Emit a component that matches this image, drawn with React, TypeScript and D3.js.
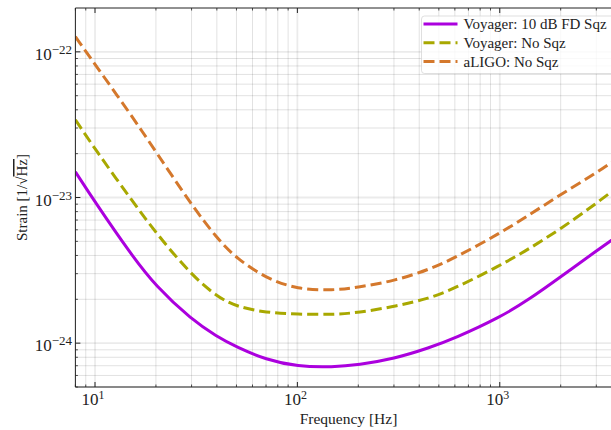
import React from 'react';
import * as d3 from 'd3';

const freqs = [8, 10, 15, 20, 30, 40, 50, 70, 100, 150, 200, 300, 450, 600, 1000, 1400, 2000, 3000, 4000];

// strain ASD, 1/sqrt(Hz)
const voyagerFdSqz = [1.5e-23, 9.3e-24, 4.1e-24, 2.45e-24, 1.45e-24, 1.11e-24, 9.4e-25, 7.7e-25, 6.9e-25, 6.85e-25, 7.1e-25, 7.8e-25, 9.3e-25, 1.08e-24, 1.5e-24, 2.0e-24, 2.85e-24, 4.3e-24, 5.7e-24];
const voyagerNoSqz = [3.42e-23, 2.15e-23, 9.8e-24, 5.7e-24, 2.93e-24, 2.09e-24, 1.78e-24, 1.62e-24, 1.58e-24, 1.57e-24, 1.62e-24, 1.78e-24, 2.03e-24, 2.38e-24, 3.4e-24, 4.45e-24, 6.09e-24, 9.1e-24, 1.24e-23];
const aligoNoSqz = [1.27e-22, 8.2e-23, 3.73e-23, 2.06e-23, 8.9e-24, 5.25e-24, 3.82e-24, 2.79e-24, 2.34e-24, 2.3e-24, 2.42e-24, 2.67e-24, 3.21e-24, 3.85e-24, 5.67e-24, 7.59e-24, 1.05e-23, 1.47e-23, 1.95e-23];

const seriesNames = ['Voyager: 10 dB FD Sqz', 'Voyager: No Sqz', 'aLIGO: No Sqz'];
const seriesValues = [voyagerFdSqz, voyagerNoSqz, aligoNoSqz];
const seriesColors = ['#ab00de', '#a8a800', '#d4782c'];
const seriesDash = [null, '11,5', '11,5'];

const xMajor = [10, 100, 1000];
const xMajorExp = ['1', '2', '3'];
const yMajor = [1e-22, 1e-23, 1e-24];
const yMajorExp = ['\u221222', '\u221223', '\u221224'];

const W = 611;
const H = 430;
const left = 75.4;
const right = 621.6;
const top = 8;
const bottom = 387;
const serif = "'Liberation Serif', 'Times New Roman', 'DejaVu Serif', serif";

export default function App() {
  const x = d3.scaleLog().domain([8, 4000]).range([left, right]);
  const y = d3.scaleLog().domain([5e-25, 2e-22]).range([bottom, top]);

  const xMinor: number[] = [];
  for (const dec of [1, 10, 100, 1000]) {
    for (let k = 2; k <= 9; k++) {
      const v = k * dec;
      if (v >= 8 && v <= 4000) xMinor.push(v);
    }
  }
  const yMinor: number[] = [];
  for (const dec of [1e-25, 1e-24, 1e-23]) {
    for (let k = 2; k <= 9; k++) {
      const v = k * dec;
      if (v >= 5e-25 && v <= 2e-22) yMinor.push(v);
    }
  }

  // b-spline smooths out small reading errors in the points
  const line = d3
    .line<number>()
    .x((_, i) => x(freqs[i]))
    .y((d) => y(d))
    .curve(d3.curveBasis);

  const txt = { fontFamily: serif, fill: '#222' };

  return (
    <div style={{ position: 'absolute', left: 0, top: 0 }}>
      <svg width={W} height={H} style={{ display: 'block', background: '#fff' }}>
        <defs>
          <clipPath id="plot">
            <rect x={left} y={top} width={right - left} height={bottom - top} />
          </clipPath>
        </defs>

        {/* grid */}
        <g>
          {xMinor.map((v) => (
            <line key={'xg' + v} x1={x(v)} x2={x(v)} y1={top} y2={bottom} stroke="#000" strokeOpacity={0.15} strokeWidth={0.8} />
          ))}
          {yMinor.map((v) => (
            <line key={'yg' + v} x1={left} x2={right} y1={y(v)} y2={y(v)} stroke="#000" strokeOpacity={0.15} strokeWidth={0.8} />
          ))}
          {xMajor.map((v) => (
            <line key={'xG' + v} x1={x(v)} x2={x(v)} y1={top} y2={bottom} stroke="#000" strokeOpacity={0.08} strokeWidth={1.8} />
          ))}
          {yMajor.map((v) => (
            <line key={'yG' + v} x1={left} x2={right} y1={y(v)} y2={y(v)} stroke="#000" strokeOpacity={0.08} strokeWidth={1.8} />
          ))}
        </g>

        {/* curves */}
        <g clipPath="url(#plot)">
          {seriesValues.map((vals, i) => (
            <path
              key={seriesNames[i]}
              d={line(vals) || ''}
              fill="none"
              stroke={seriesColors[i]}
              strokeWidth={3}
              strokeDasharray={seriesDash[i] || undefined}
            />
          ))}
        </g>

        {/* spines and ticks */}
        <g stroke="#222" strokeWidth={1}>
          <line x1={left} x2={right} y1={bottom} y2={bottom} />
          <line x1={left} x2={right} y1={top} y2={top} />
          <line x1={left} x2={left} y1={top} y2={bottom} />
          {xMajor.map((v) => (
            <g key={'xt' + v}>
              <line x1={x(v)} x2={x(v)} y1={bottom} y2={bottom - 5} />
              <line x1={x(v)} x2={x(v)} y1={top} y2={top + 5} />
            </g>
          ))}
          {xMinor.map((v) => (
            <g key={'xm' + v}>
              <line x1={x(v)} x2={x(v)} y1={bottom} y2={bottom - 2.5} strokeWidth={0.8} />
              <line x1={x(v)} x2={x(v)} y1={top} y2={top + 2.5} strokeWidth={0.8} />
            </g>
          ))}
          {yMajor.map((v) => (
            <line key={'yt' + v} x1={left} x2={left + 5} y1={y(v)} y2={y(v)} />
          ))}
          {yMinor.map((v) => (
            <line key={'ym' + v} x1={left} x2={left + 2.5} y1={y(v)} y2={y(v)} strokeWidth={0.8} />
          ))}
        </g>

        {/* tick labels */}
        {xMajor.map((v, i) => (
          <text key={'xl' + v} x={x(v) - 2} y={405} fontSize={17} textAnchor="middle" style={txt}>
            10
            <tspan dy={-6} fontSize={12}>{xMajorExp[i]}</tspan>
          </text>
        ))}
        {yMajor.map((v, i) => (
          <text key={'yl' + v} x={72} y={y(v) + 8} fontSize={17} textAnchor="end" style={txt}>
            10
            <tspan dy={-6} fontSize={13}>{yMajorExp[i]}</tspan>
          </text>
        ))}

        {/* axis labels */}
        <text x={(left + right) / 2} y={424} fontSize={15.5} textAnchor="middle" style={txt}>
          Frequency [Hz]
        </text>
        <text
          transform={`translate(27,${(top + bottom) / 2}) rotate(-90)`}
          fontSize={15}
          textAnchor="middle"
          style={txt}
        >
          Strain [1/
          <tspan>{'\u221A'}</tspan>
          <tspan style={{ textDecoration: 'overline' }}>Hz</tspan>]
        </text>

        {/* legend */}
        <g>
          <rect x={421.5} y={16} width={200} height={57.5} rx={3} fill="#fff" fillOpacity={0.8} stroke="#ccc" strokeOpacity={0.8} strokeWidth={0.8} />
          {seriesNames.map((name, i) => (
            <g key={'lg' + name}>
              <line
                x1={423.5}
                x2={457.5}
                y1={24 + i * 18.8}
                y2={24 + i * 18.8}
                stroke={seriesColors[i]}
                strokeWidth={3}
                strokeDasharray={seriesDash[i] || undefined}
              />
              <text x={463.5} y={29 + i * 18.8} fontSize={15} style={txt}>
                {name}
              </text>
            </g>
          ))}
        </g>
      </svg>
    </div>
  );
}
